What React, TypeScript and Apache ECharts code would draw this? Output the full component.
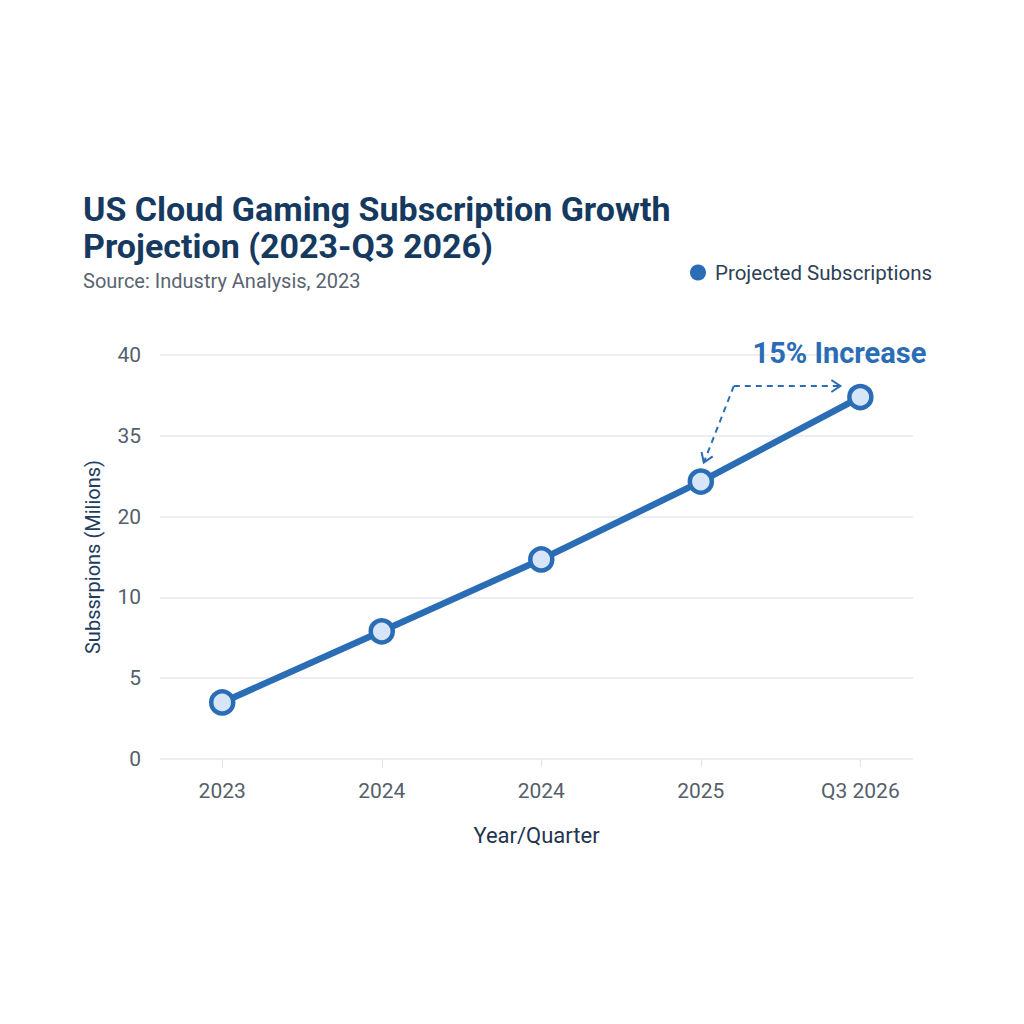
import React, { useEffect, useRef } from "react";
import * as echarts from "echarts";

const categories = ["2023", "2024", "2024", "2025", "Q3 2026"];
const subscriptions = [3.5, 7.9, 14.7, 26.5, 37.4];
const yTickLabels = [0, 5, 10, 20, 35, 40];
const seriesName = "Projected Subscriptions";
const annotationText = "15% Increase";

const BLUE = "#2a6db5";

// piecewise-linear mapping of value onto the evenly spaced (non-linear) tick scale
function toAxisPos(v: number): number {
  for (let i = 0; i < yTickLabels.length - 1; i++) {
    const a = yTickLabels[i];
    const b = yTickLabels[i + 1];
    if (v <= b) return i + (v - a) / (b - a);
  }
  return yTickLabels.length - 1;
}

export default function App() {
  const ref = useRef<HTMLDivElement>(null);
  useEffect(() => {
    if (!ref.current) return;
    const chart = echarts.init(ref.current, null, { renderer: "svg" });
    const font = "Roboto, 'Noto Sans', sans-serif";
    const idx = categories.map((_, i) => i);
    chart.setOption({
      animation: false,
      backgroundColor: "#ffffff",
      textStyle: { fontFamily: font },
      title: {
        text: "US Cloud Gaming Subscription Growth\nProjection (2023-Q3 2026)",
        subtext: "Source: Industry Analysis, 2023",
        left: 78,
        top: 185,
        itemGap: 7,
        textStyle: { fontSize: 34, fontWeight: "bold", color: "#163a5f", lineHeight: 37, fontFamily: font },
        subtextStyle: { fontSize: 20, color: "#5a6470", fontFamily: font },
      },
      legend: {
        left: 685,
        top: 257,
        icon: "circle",
        itemWidth: 16,
        itemHeight: 16,
        itemGap: 10,
        textStyle: { fontSize: 20.5, color: "#2d3f55", fontFamily: font, padding: [0, 0, 0, 4] },
        data: [{ name: seriesName, itemStyle: { color: BLUE, borderWidth: 0 } }],
      },
      grid: { left: 160, right: 111, top: 355, bottom: 265 },
      xAxis: {
        type: "value",
        min: -0.39,
        max: 4.33,
        name: "Year/Quarter",
        nameLocation: "middle",
        nameGap: 65,
        nameTextStyle: { fontSize: 22, color: "#1f3550" },
        axisLine: { show: false },
        splitLine: { show: false },
        axisTick: { show: true, customValues: idx, length: 8, lineStyle: { color: "#dfe3e8" } },
        axisLabel: {
          customValues: idx,
          margin: 21,
          fontSize: 21,
          color: "#555f6b",
          formatter: (v: number) => categories[Math.round(v)] ?? "",
        },
      },
      yAxis: {
        type: "value",
        min: 0,
        max: yTickLabels.length - 1,
        interval: 1,
        name: "Subssrpions (Milions)",
        nameLocation: "middle",
        nameGap: 57,
        nameTextStyle: { fontSize: 20, color: "#1f3d60" },
        axisLine: { show: false },
        axisTick: { show: false },
        splitLine: { lineStyle: { color: "#e6e9ed", width: 1.5 } },
        axisLabel: {
          margin: 19,
          fontSize: 21,
          color: "#555f6b",
          formatter: (v: number) => String(yTickLabels[Math.round(v)] ?? ""),
        },
      },
      series: [
        {
          name: seriesName,
          type: "line",
          data: subscriptions.map((v, i) => [i, toAxisPos(v)]),
          lineStyle: { color: BLUE, width: 6.5 },
          symbol: "circle",
          symbolSize: 22,
          itemStyle: { color: "#d6e6f8", borderColor: BLUE, borderWidth: 4.5 },
          z: 3,
        },
      ],
    });

    const p4 = chart.convertToPixel({ gridIndex: 0 }, [3, toAxisPos(subscriptions[3])]) as number[];
    const p5 = chart.convertToPixel({ gridIndex: 0 }, [4, toAxisPos(subscriptions[4])]) as number[];
    const corner = [p4[0] + 33, p5[1] - 11];
    const hEnd = [p5[0] - 20, p5[1] - 11];
    const dEnd = [p4[0] + 3, p4[1] - 19];
    const dash = { stroke: BLUE, lineWidth: 2, lineDash: [6, 5], fill: null };
    const solid = { stroke: BLUE, lineWidth: 2, fill: null };
    const chevron = (tip: number[], from: number[]) => {
      const dx = tip[0] - from[0];
      const dy = tip[1] - from[1];
      const len = Math.hypot(dx, dy);
      const ux = dx / len;
      const uy = dy / len;
      const bx = tip[0] - ux * 9;
      const by = tip[1] - uy * 9;
      return [
        [bx - uy * 6, by + ux * 6],
        tip,
        [bx + uy * 6, by - ux * 6],
      ];
    };
    chart.setOption({
      graphic: [
        {
          type: "text",
          x: p5[0] + 66,
          y: p5[1] - 44,
          style: {
            text: annotationText,
            fill: BLUE,
            font: `bold 29px ${font}`,
            textAlign: "right",
            textVerticalAlign: "middle",
          },
        },
        { type: "polyline", shape: { points: [corner, hEnd] }, style: dash },
        { type: "polyline", shape: { points: [corner, dEnd] }, style: dash },
        { type: "polyline", shape: { points: chevron(hEnd, corner) }, style: solid },
        { type: "polyline", shape: { points: chevron(dEnd, corner) }, style: solid },
      ],
    });
    return () => chart.dispose();
  }, []);
  return <div ref={ref} style={{ width: 1024, height: 1024, position: "absolute", left: 0, top: 0 }} />;
}
